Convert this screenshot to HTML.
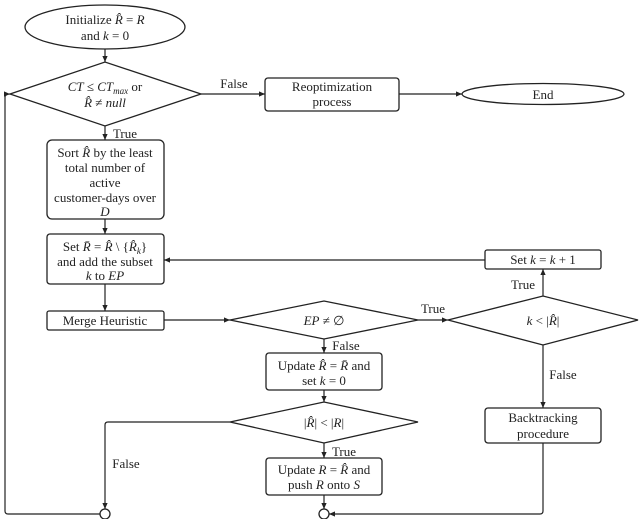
<!DOCTYPE html>
<html><head><style>
html,body{margin:0;padding:0;background:#fff;}
svg{display:block;}
text{font-family:"Liberation Serif",serif;font-size:13px;fill:#222;}
.i{font-style:italic;}
</style></head><body>
<svg width="640" height="519" viewBox="0 0 640 519" xmlns="http://www.w3.org/2000/svg">
<defs><marker id="a" markerWidth="6" markerHeight="6" refX="5" refY="3" orient="auto"><path d="M0,0.8 L5,3 L0,5.2z" fill="#222"/></marker></defs>
<g fill="none" stroke="#222" stroke-width="1.3">
<ellipse cx="105" cy="27" rx="80" ry="22"/>
<polygon points="10,94 105,62 201,94 105,126"/>
<rect x="265" y="78" width="134" height="33" rx="3"/>
<ellipse cx="543" cy="94" rx="81" ry="10.5"/>
<rect x="47" y="140" width="117" height="79" rx="5"/>
<rect x="47" y="234" width="117" height="50" rx="3"/>
<rect x="47" y="311" width="117" height="19" rx="2"/>
<polygon points="230,320 324,301 418,320 324,339"/>
<polygon points="448,320 543,296 638,320 543,345"/>
<rect x="485" y="250" width="116" height="19" rx="2"/>
<rect x="266" y="353" width="116" height="37" rx="3"/>
<polygon points="230,422 324,402 418,422 324,443"/>
<rect x="266" y="458" width="116" height="37" rx="3"/>
<rect x="485" y="408" width="116" height="35" rx="3"/>
<circle cx="105" cy="514" r="5"/>
<circle cx="324" cy="514" r="5"/>
</g>
<g fill="none" stroke="#222" stroke-width="1.2" marker-end="url(#a)">
<path d="M105,49 V62"/>
<path d="M201,94 H265"/>
<path d="M399,94 H462"/>
<path d="M105,126 V140"/>
<path d="M105,219 V234"/>
<path d="M485,260 H164"/>
<path d="M105,284 V311"/>
<path d="M164,320 H230"/>
<path d="M418,320 H448"/>
<path d="M543,296 V269"/>
<path d="M543,345 V408"/>
<path d="M324,339 V353"/>
<path d="M324,390 V402"/>
<path d="M324,443 V458"/>
<path d="M324,495 V509"/>
<path d="M230,422 H108 Q105,422 105,425 V509"/>
<path d="M543,443 V511 Q543,514 540,514 H329"/>
<path d="M100,514 H8 Q5,514 5,511 V97 Q5,94 10,94"/>
</g>
<g text-anchor="middle">
<text x="105" y="24">Initialize <tspan class="i">R̂</tspan> = <tspan class="i">R</tspan></text>
<text x="105" y="40">and <tspan class="i">k</tspan> = 0</text>
<text x="105" y="91"><tspan class="i">CT</tspan> ≤ <tspan class="i">CT<tspan font-size="9" dy="3">max</tspan></tspan><tspan dy="-3"> or</tspan></text>
<text x="105" y="107"><tspan class="i">R̂</tspan> ≠ <tspan class="i">null</tspan></text>
<text x="234" y="88">False</text>
<text x="332" y="91">Reoptimization</text>
<text x="332" y="106">process</text>
<text x="543" y="99">End</text>
<text x="125" y="138">True</text>
<text x="105" y="157">Sort <tspan class="i">R̂</tspan> by the least</text>
<text x="105" y="172">total number of</text>
<text x="105" y="187">active</text>
<text x="105" y="202">customer-days over</text>
<text x="105" y="216" class="i">D</text>
<text x="105" y="251">Set <tspan class="i">R̄</tspan> = <tspan class="i">R̂</tspan> \ {<tspan class="i">R̂<tspan font-size="9" dy="3">k</tspan></tspan><tspan dy="-3">}</tspan></text>
<text x="105" y="266">and add the subset</text>
<text x="105" y="280"><tspan class="i">k</tspan> to <tspan class="i">EP</tspan></text>
<text x="105" y="325">Merge Heuristic</text>
<text x="324" y="325"><tspan class="i">EP</tspan> ≠ ∅</text>
<text x="433" y="313">True</text>
<text x="543" y="325"><tspan class="i">k</tspan> &lt; |<tspan class="i">R̂</tspan>|</text>
<text x="543" y="264">Set <tspan class="i">k</tspan> = <tspan class="i">k</tspan> + 1</text>
<text x="523" y="289">True</text>
<text x="563" y="379">False</text>
<text x="346" y="350">False</text>
<text x="324" y="370">Update <tspan class="i">R̂</tspan> = <tspan class="i">R̄</tspan> and</text>
<text x="324" y="385">set <tspan class="i">k</tspan> = 0</text>
<text x="324" y="427">|<tspan class="i">R̂</tspan>| &lt; |<tspan class="i">R</tspan>|</text>
<text x="344" y="456">True</text>
<text x="126" y="468">False</text>
<text x="324" y="474">Update <tspan class="i">R</tspan> = <tspan class="i">R̂</tspan> and</text>
<text x="324" y="489">push <tspan class="i">R</tspan> onto <tspan class="i">S</tspan></text>
<text x="543" y="422">Backtracking</text>
<text x="543" y="438">procedure</text>
</g>
</svg>
</body></html>
